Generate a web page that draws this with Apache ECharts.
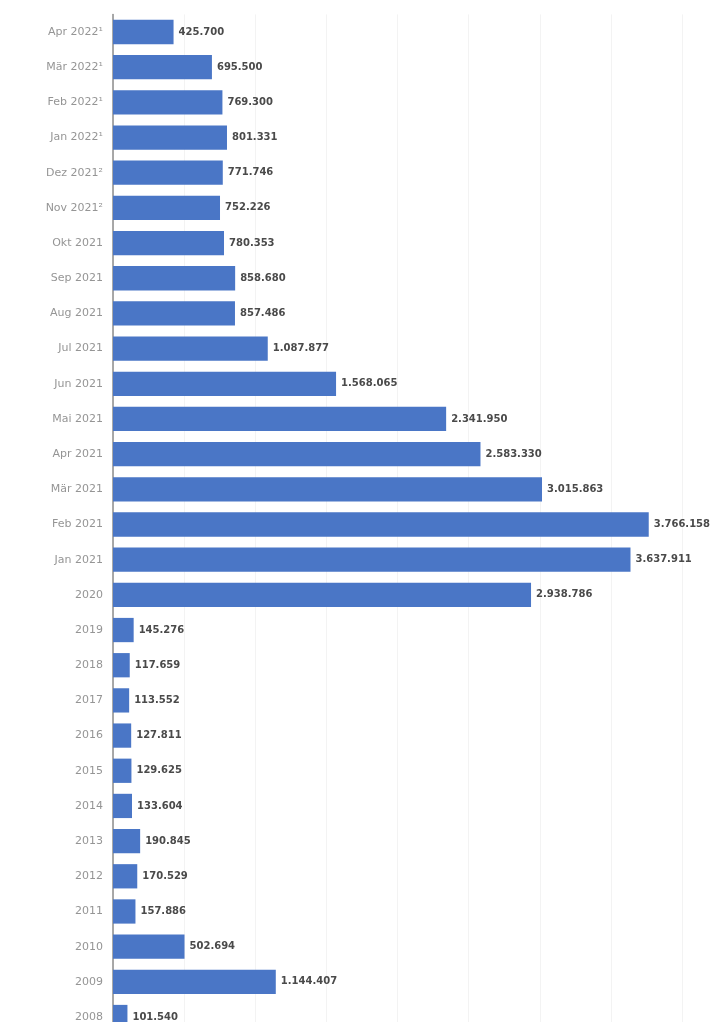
<!DOCTYPE html>
<html>
<head>
<meta charset="utf-8">
<script src="https://cdn.jsdelivr.net/npm/echarts@6/dist/echarts.min.js"></script>
<style>
html,body{margin:0;padding:0;background:#fff;overflow:hidden;}
#chart{width:710px;height:1040px;}
</style>
</head>
<body>
<div id="chart"></div>
<script>
const categories = ["Apr 2022¹","Mär 2022¹","Feb 2022¹","Jan 2022¹","Dez 2021²","Nov 2021²","Okt 2021","Sep 2021","Aug 2021","Jul 2021","Jun 2021","Mai 2021","Apr 2021","Mär 2021","Feb 2021","Jan 2021","2020","2019","2018","2017","2016","2015","2014","2013","2012","2011","2010","2009","2008"];
const values = [425700,695500,769300,801331,771746,752226,780353,858680,857486,1087877,1568065,2341950,2583330,3015863,3766158,3637911,2938786,145276,117659,113552,127811,129625,133604,190845,170529,157886,502694,1144407,101540];
const xTicks = {min:0, max:4000000, interval:500000};

function fmt(v){ return String(v).replace(/\B(?=(\d{3})+(?!\d))/g, "."); }

const chart = echarts.init(document.getElementById('chart'), null, {renderer:'canvas'});
chart.setOption({
  animation:false,
  backgroundColor:'#ffffff',
  grid:{left:113, top:14.4, width:569, height:1020.2, containLabel:false},
  xAxis:{
    type:'value', min:xTicks.min, max:xTicks.max, interval:xTicks.interval,
    axisLabel:{show:false}, axisLine:{show:false}, axisTick:{show:false},
    splitLine:{show:true, lineStyle:{color:'#f3f3f3', width:1}}
  },
  yAxis:{
    type:'category', inverse:true, data:categories,
    axisLine:{show:true, lineStyle:{color:'#8c8c8c', width:1.5}},
    axisTick:{show:false},
    axisLabel:{color:'#959595', fontSize:11, fontFamily:'DejaVu Sans, sans-serif', margin:10}
  },
  series:[{
    type:'bar', data:values, barCategoryGap:'31%',
    itemStyle:{color:'#4a76c6'},
    label:{show:true, position:'right', distance:5, formatter:p=>fmt(p.value),
      color:'#4a4a4a', fontSize:10, fontWeight:'bold', fontFamily:'DejaVu Sans, sans-serif'}
  }]
});
</script>
</body>
</html>
